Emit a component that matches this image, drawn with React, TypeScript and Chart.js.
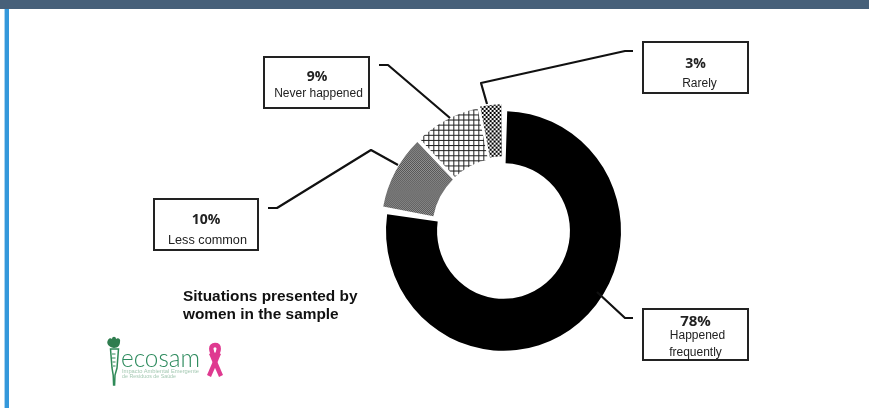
import React, { useEffect, useRef } from "react";
import { Chart, registerables } from "chart.js";

Chart.register(...registerables);

// Survey shares, clockwise from twelve o'clock
const categories = ["Happened frequently", "Less common", "Never happened", "Rarely"];
const shares = [78, 10, 9, 3];
const sliceOffsets = [0, 15, 15, 15];

function checkerFill(cell: number, dark: string, light: string) {
  const tile = document.createElement("canvas");
  tile.width = tile.height = cell * 2;
  const c = tile.getContext("2d")!;
  c.fillStyle = light;
  c.fillRect(0, 0, cell * 2, cell * 2);
  c.fillStyle = dark;
  c.fillRect(0, 0, cell, cell);
  c.fillRect(cell, cell, cell, cell);
  return c.createPattern(tile, "repeat")!;
}

function gridFill(pitch: number, ink: string) {
  const tile = document.createElement("canvas");
  tile.width = tile.height = pitch;
  const c = tile.getContext("2d")!;
  c.fillStyle = "#fff";
  c.fillRect(0, 0, pitch, pitch);
  c.fillStyle = ink;
  c.fillRect(0, 0, pitch, 1);
  c.fillRect(0, 0, 1, pitch);
  return c.createPattern(tile, "repeat")!;
}

// Leader lines from each ring slice out to its caption box
const leaders: [number, number][][] = [
  [[597, 292], [625, 318], [633, 318]],
  [[398, 165], [371, 150], [277, 208], [268, 208]],
  [[450, 118], [388, 65], [379, 65]],
  [[487, 104], [481, 83], [625, 51], [633, 51]],
];

// The ring is drawn slightly taller than wide
const ringStretch = 1.02;

const ringShapePlugin = {
  id: "ringShape",
  beforeDatasetsDraw(chart: Chart) {
    const { ctx, chartArea } = chart;
    const midY = (chartArea.top + chartArea.bottom) / 2;
    ctx.save();
    ctx.translate(0, midY);
    ctx.scale(1, ringStretch);
    ctx.translate(0, -midY);
  },
  afterDatasetsDraw(chart: Chart) {
    chart.ctx.restore();
  },
};

const leaderPlugin = {
  id: "leaders",
  afterDatasetsDraw(chart: Chart) {
    const { ctx } = chart;
    ctx.save();
    ctx.strokeStyle = "#111";
    ctx.lineWidth = 2.2;
    ctx.lineJoin = "round";
    for (const path of leaders) {
      ctx.beginPath();
      path.forEach(([x, y], i) => (i ? ctx.lineTo(x, y) : ctx.moveTo(x, y)));
      ctx.stroke();
    }
    ctx.restore();
  },
};

type Caption = {
  pct: string;
  lines: string[];
  x: number;
  y: number;
  w: number;
  h: number;
  pctX: number;
  pctY: number;
  lineX: number[];
  lineY: number[];
  size: number;
};
const captions: Caption[] = [
  { pct: "3%", lines: ["Rarely"], x: 642, y: 41, w: 107, h: 53, pctX: 695.5, pctY: 62, lineX: [699.5], lineY: [83], size: 12 },
  { pct: "9%", lines: ["Never happened"], x: 263, y: 56, w: 107, h: 53, pctX: 317, pctY: 75, lineX: [318.5], lineY: [93], size: 12 },
  { pct: "10%", lines: ["Less common"], x: 153, y: 198, w: 106, h: 53, pctX: 206, pctY: 218, lineX: [207.5], lineY: [240], size: 12.7 },
  { pct: "78%", lines: ["Happened", "frequently"], x: 642, y: 308, w: 107, h: 53, pctX: 695.5, pctY: 320, lineX: [697.5, 695.5], lineY: [335, 352], size: 12 },
];

const centred = (cx: number, cy: number): React.CSSProperties => ({
  position: "absolute",
  left: cx,
  top: cy,
  transform: "translate(-50%, -50%)",
  whiteSpace: "nowrap",
  color: "#222",
});

function Logo() {
  return (
    <svg width={130} height={60} style={{ position: "absolute", left: 100, top: 330 }} viewBox="0 0 130 60">
      <path d="M14 18 C8 17 6 13 8 10 C9 8 11 8 12 9 C12 6 16 6 16 9 C18 7 21 9 20 12 C20 15 18 18 14 18Z" fill="#2f7d4f" />
      <path d="M10.5 19 L18.5 19 L17 38 L15 45 L14.6 55 L13.6 55 L13.2 45 L12 38Z" fill="#fff" stroke="#2f8a58" strokeWidth={1.5} />
      <path d="M12 24 H15.5 M12 28 H15.5 M12.5 32 H15.5 M13 36 H15.5" stroke="#2f8a58" strokeWidth={1} />
      <text x={21} y={37} fontFamily="Lato" fontWeight={300} fontSize={25} fill="#2e8b5e" textLength={79} lengthAdjust="spacingAndGlyphs">ecosam</text>
      <text x={22} y={43} fontFamily="'Liberation Sans'" fontSize={4.6} fill="#a5c9b3" textLength={77} lengthAdjust="spacingAndGlyphs">Impacto Ambiental Emergente</text>
      <text x={22} y={48} fontFamily="'Liberation Sans'" fontSize={4.6} fill="#a5c9b3" textLength={54} lengthAdjust="spacingAndGlyphs">de Resíduos de Saúde</text>
      <g fill="none" stroke="#df3a90" strokeWidth={4.4} strokeLinejoin="round">
        <path d="M115 27 C110 21 110 15 115 15 C120 15 120 21 115 27" />
        <path d="M119 23 L109 46" />
        <path d="M111 23 L121 46" />
      </g>
    </svg>
  );
}

export default function App() {
  const ref = useRef<HTMLCanvasElement>(null);

  useEffect(() => {
    const chart = new Chart(ref.current!, {
      type: "doughnut",
      data: {
        labels: categories,
        datasets: [
          {
            data: shares,
            backgroundColor: ["#000", checkerFill(1, "#333", "#b5b5b5"), gridFill(5, "#222"), checkerFill(2, "#000", "#fff")],
            borderWidth: 0,
            offset: sliceOffsets,
            spacing: 3,
          },
        ],
      },
      options: {
        animation: false,
        responsive: false,
        radius: 116,
        cutout: "56%",
        rotation: -0.5,
        layout: { padding: { left: 372.5, right: 234.5, top: 100, bottom: 46 } },
        plugins: { legend: { display: false }, tooltip: { enabled: false } },
      },
      plugins: [ringShapePlugin, leaderPlugin],
    });
    return () => chart.destroy();
  }, []);

  return (
    <div style={{ position: "fixed", left: 0, top: 0, width: 869, height: 408, background: "#fff", overflow: "hidden" }}>
      <div style={{ position: "absolute", left: 0, top: 0, width: 869, height: 9, background: "#476079" }} />
      <div style={{ position: "absolute", left: 4, top: 9, width: 1, height: 399, background: "#a9d3ef" }} />
      <div style={{ position: "absolute", left: 5, top: 9, width: 4, height: 399, background: "#3498db" }} />
      <canvas ref={ref} width={869} height={408} style={{ position: "absolute", left: 0, top: 0 }} />
      {captions.map((c) => (
        <React.Fragment key={c.pct}>
          <div style={{ position: "absolute", left: c.x, top: c.y, width: c.w, height: c.h, boxSizing: "border-box", border: "2px solid #222" }} />
          <div style={{ ...centred(c.pctX, c.pctY), fontFamily: "'Open Sans'", fontWeight: 700, fontSize: c.lines.length > 1 ? 15 : 14 }}>{c.pct}</div>
          {c.lines.map((l, i) => (
            <div key={l} style={{ ...centred(c.lineX[i], c.lineY[i]), fontFamily: "'Liberation Sans'", fontSize: c.size }}>
              {l}
            </div>
          ))}
        </React.Fragment>
      ))}
      <div style={{ position: "absolute", left: 183, top: 286.5, fontFamily: "'Liberation Sans'", fontWeight: 700, fontSize: 15.4, lineHeight: "18px", color: "#111", whiteSpace: "nowrap" }}>
        Situations presented by
        <br />
        women in the sample
      </div>
      <Logo />
    </div>
  );
}
